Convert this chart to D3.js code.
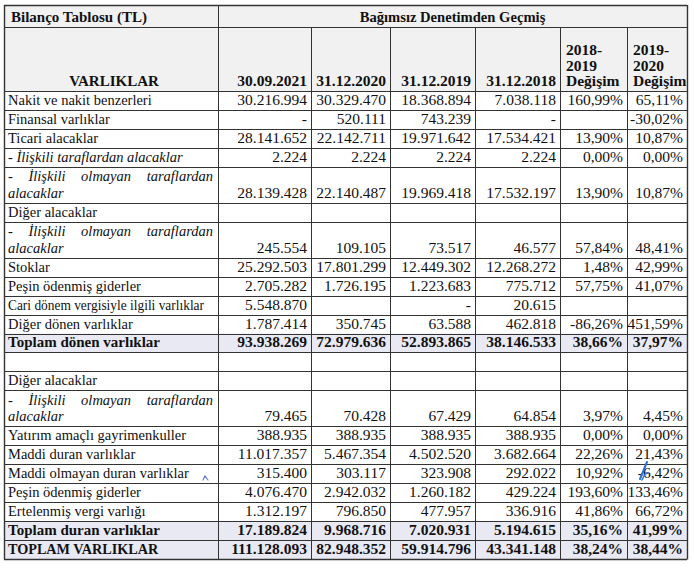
<!DOCTYPE html>
<html>
<head>
<meta charset="utf-8">
<script src="https://cdn.jsdelivr.net/npm/d3@7"></script>
<style>
html,body{margin:0;padding:0;background:#fff;}
svg{display:block;}
text{font-family:"Liberation Serif","Times New Roman",serif;fill:#111;}
</style>
</head>
<body>
<svg id="chart" width="694" height="568"></svg>
<script>
// ---------------- DATA ----------------
const tableTitle = "Bilanço Tablosu (TL)";
const groupTitle = "Bağımsız Denetimden Geçmiş";
const firstHeader = "VARLIKLAR";
const periodLabels = ["30.09.2021", "31.12.2020", "31.12.2019", "31.12.2018"];
const changeLabels = [["2018-", "2019", "Değişim"], ["2019-", "2020", "Değişim"]];

const rowLabels = [
  "Nakit ve nakit benzerleri",
  "Finansal varlıklar",
  "Ticari alacaklar",
  "- İlişkili taraflardan alacaklar",
  "- İlişkili olmayan taraflardan alacaklar",
  "Diğer alacaklar",
  "- İlişkili olmayan taraflardan alacaklar",
  "Stoklar",
  "Peşin ödenmiş giderler",
  "Cari dönem vergisiyle ilgili varlıklar",
  "Diğer dönen varlıklar",
  "Toplam dönen varlıklar",
  "",
  "Diğer alacaklar",
  "- İlişkili olmayan taraflardan alacaklar",
  "Yatırım amaçlı gayrimenkuller",
  "Maddi duran varlıklar",
  "Maddi olmayan duran varlıklar",
  "Peşin ödenmiş giderler",
  "Ertelenmiş vergi varlığı",
  "Toplam duran varlıklar",
  "TOPLAM VARLIKLAR"
];
// row kind: n = normal, i = italic sub-item, w = italic two-line, t = total
const rowKinds = ["n","n","n","i","w","n","w","n","n","n","n","t","n","n","w","n","n","n","n","n","t","t"];

const values2021 = ["30.216.994","-","28.141.652","2.224","28.139.428","","245.554","25.292.503","2.705.282","5.548.870","1.787.414","93.938.269","","","79.465","388.935","11.017.357","315.400","4.076.470","1.312.197","17.189.824","111.128.093"];
const values2020 = ["30.329.470","520.111","22.142.711","2.224","22.140.487","","109.105","17.801.299","1.726.195","","350.745","72.979.636","","","70.428","388.935","5.467.354","303.117","2.942.032","796.850","9.968.716","82.948.352"];
const values2019 = ["18.368.894","743.239","19.971.642","2.224","19.969.418","","73.517","12.449.302","1.223.683","-","63.588","52.893.865","","","67.429","388.935","4.502.520","323.908","1.260.182","477.957","7.020.931","59.914.796"];
const values2018 = ["7.038.118","-","17.534.421","2.224","17.532.197","","46.577","12.268.272","775.712","20.615","462.818","38.146.533","","","64.854","388.935","3.682.664","292.022","429.224","336.916","5.194.615","43.341.148"];
const change1819 = ["160,99%","","13,90%","0,00%","13,90%","","57,84%","1,48%","57,75%","","-86,26%","38,66%","","","3,97%","0,00%","22,26%","10,92%","193,60%","41,86%","35,16%","38,24%"];
const change1920 = ["65,11%","-30,02%","10,87%","0,00%","10,87%","","48,41%","42,99%","41,07%","","451,59%","37,97%","","","4,45%","0,00%","21,43%","-6,42%","133,46%","66,72%","41,99%","38,44%"];

// ---------------- LAYOUT ----------------
const svg = d3.select("#chart");
const W = 694, H = 568;
const colEdges = [4, 218, 311, 390, 475, 560, 627, 687];
const headTop = 5, head1Bottom = 27, headBottom = 91, tableBottom = 559;
const FS_NUM = 15.5, FS_LABEL = 14.5, FS_BOLD = 15, FS_HEAD = 14.6;
const lineColor = "#333";
const shade = "#e9e9f3";
const headBg = "#f1f1f1";

const rowUnits = rowKinds.map(k => k === "w" ? 1.9 : 1);
const cum = [0];
rowUnits.forEach(u => cum.push(cum[cum.length - 1] + u));
const yScale = d3.scaleLinear().domain([0, cum[cum.length - 1]]).range([headBottom, tableBottom]);
const xCol = d3.scaleOrdinal().domain(d3.range(colEdges.length)).range(colEdges);

const columns = [values2021, values2020, values2019, values2018, change1819, change1920];

svg.append("rect").attr("width", W).attr("height", H).attr("fill", "#fff");

svg.append("rect").attr("x", colEdges[0]).attr("y", headTop)
  .attr("width", colEdges[7] - colEdges[0]).attr("height", headBottom - headTop).attr("fill", headBg);

const rows = rowLabels.map((label, i) => ({
  label, kind: rowKinds[i], i,
  y0: yScale(cum[i]), y1: yScale(cum[i + 1]),
  vals: columns.map(c => c[i])
}));

svg.selectAll("rect.shade").data(rows.filter(r => r.kind === "t")).join("rect")
  .attr("class", "shade")
  .attr("x", colEdges[0]).attr("y", d => d.y0)
  .attr("width", colEdges[7] - colEdges[0]).attr("height", d => d.y1 - d.y0)
  .attr("fill", shade);

const g = svg.append("g").attr("stroke", lineColor).attr("stroke-width", 1).attr("fill", "none");
const hLines = [headTop, head1Bottom, headBottom].concat(rows.map(r => r.y1));
g.selectAll("line.h").data(hLines).join("line")
  .attr("x1", colEdges[0]).attr("x2", colEdges[7])
  .attr("y1", d => Math.round(d) + 0.5).attr("y2", d => Math.round(d) + 0.5)
  .attr("stroke-width", (d, i) => (i === 0 || i === hLines.length - 1) ? 1.6 : 1);
[0, 7].forEach(c => {
  g.append("line").attr("x1", xCol(c) + 0.5).attr("x2", xCol(c) + 0.5)
    .attr("y1", headTop).attr("y2", tableBottom + 0.5).attr("stroke-width", 1.4);
});
g.append("line").attr("x1", xCol(1) + 0.5).attr("x2", xCol(1) + 0.5)
  .attr("y1", headTop).attr("y2", tableBottom + 0.5);
d3.range(2, 7).forEach(c => {
  g.append("line").attr("x1", xCol(c) + 0.5).attr("x2", xCol(c) + 0.5)
    .attr("y1", head1Bottom).attr("y2", tableBottom + 0.5);
});

// header text
svg.append("text").attr("x", 11).attr("y", 22).attr("font-size", FS_BOLD).attr("font-weight", "bold").text(tableTitle);
svg.append("text").attr("x", (colEdges[1] + colEdges[7]) / 2).attr("y", 22).attr("text-anchor", "middle")
  .attr("font-size", FS_HEAD).attr("font-weight", "bold").text(groupTitle);
svg.append("text").attr("x", (colEdges[0] + colEdges[1]) / 2 + 3).attr("y", 86).attr("text-anchor", "middle")
  .attr("font-size", FS_BOLD).attr("font-weight", "bold").text(firstHeader);
periodLabels.forEach((p, k) => {
  svg.append("text").attr("x", colEdges[k + 2] - 4).attr("y", 86).attr("text-anchor", "end")
    .attr("font-size", FS_NUM).attr("font-weight", "bold").text(p);
});
changeLabels.forEach((lines, k) => {
  lines.forEach((ln, j) => {
    svg.append("text").attr("x", colEdges[k + 5] + 6).attr("y", 55 + j * 15.5)
      .attr("font-size", FS_NUM).attr("font-weight", "bold").text(ln);
  });
});

// body text
const maxLabelW = colEdges[1] - colEdges[0] - 18;
rows.forEach(r => {
  const bold = r.kind === "t";
  const italic = r.kind === "i" || r.kind === "w";
  const base = r.y1 - 5;
  if (r.kind === "w") {
    const words = ["-", "İlişkili", "olmayan", "taraflardan"];
    const grp = svg.append("g");
    const ts = words.map(w => grp.append("text").attr("font-size", FS_LABEL).attr("font-style", "italic")
      .attr("y", r.y0 + 14.5).text(w));
    const widths = ts.map(t => t.node().getComputedTextLength());
    const left = colEdges[0] + 4, right = colEdges[1] - 5;
    const gap = (right - left - d3.sum(widths)) / (words.length - 1);
    let x = left;
    ts.forEach((t, k) => { t.attr("x", x); x += widths[k] + gap; });
    svg.append("text").attr("x", left).attr("y", base).attr("font-size", FS_LABEL).attr("font-style", "italic").text("alacaklar");
  } else if (r.label) {
    const t = svg.append("text").attr("x", colEdges[0] + 4).attr("y", base)
      .attr("font-size", bold ? (r.i === rows.length - 1 ? 14.2 : FS_BOLD) : FS_LABEL)
      .attr("font-weight", bold ? "bold" : null).attr("font-style", italic ? "italic" : null).text(r.label);
    if (t.node().getComputedTextLength() > maxLabelW) {
      t.attr("textLength", maxLabelW).attr("lengthAdjust", "spacingAndGlyphs");
    }
  }
  r.vals.forEach((v, k) => {
    if (!v) return;
    svg.append("text").attr("x", colEdges[k + 2] - 4).attr("y", base).attr("text-anchor", "end")
      .attr("font-size", FS_NUM).attr("font-weight", bold ? "bold" : null).text(v);
  });
});

// blue pen marks from the scan
const pen = svg.append("g").attr("stroke", "#2a6fd6").attr("fill", "none").attr("stroke-linecap", "round");
pen.append("path").attr("d", "M640,479 L647,462").attr("stroke-width", 2);
pen.append("path").attr("d", "M642,480 L645,474 L648,473").attr("stroke-width", 1.5);
pen.append("path").attr("d", "M203,480 L205,476 L208,480").attr("stroke-width", 1.2).attr("stroke", "#6a7fe0");
</script>
</body>
</html>
